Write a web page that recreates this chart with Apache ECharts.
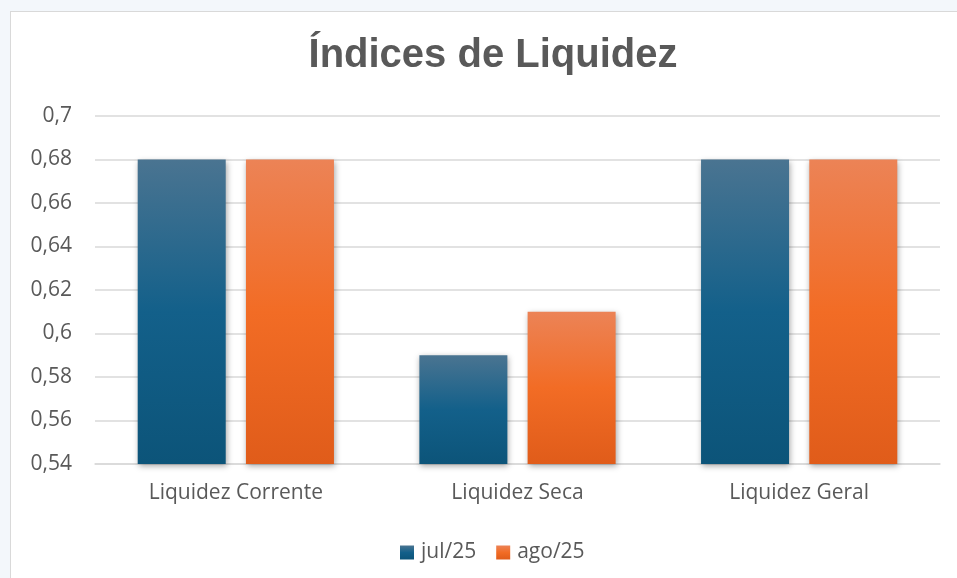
<!DOCTYPE html>
<html>
<head>
<meta charset="utf-8">
<script src="https://cdn.jsdelivr.net/npm/echarts@6/dist/echarts.min.js"></script>
<style>
  html, body { margin: 0; padding: 0; background: #f3f7fb; }
  #card { position: absolute; left: 10px; top: 11px; width: 1000px; height: 600px; background: #fff; border: 1.5px solid #d9d9d9; }
  #chart { position: absolute; left: 0; top: 0; width: 957px; height: 578px; }
</style>
</head>
<body>
<div id="card"></div>
<div id="chart"></div>
<script>
var categories = ['Liquidez Corrente', 'Liquidez Seca', 'Liquidez Geral']
var jul25 = [0.68, 0.59, 0.68]
var ago25 = [0.68, 0.61, 0.68]

var textFont = '"Open Sans", sans-serif'

function grad(top, mid, bottom) {
  return new echarts.graphic.LinearGradient(0, 0, 0, 1, [
    { offset: 0, color: top },
    { offset: 0.5, color: mid },
    { offset: 1, color: bottom }
  ])
}

var chart = echarts.init(document.getElementById('chart'))
chart.setOption({
  animation: false,
  title: {
    text: 'Índices de Liquidez',
    left: 488,
    textAlign: 'center',
    top: 31,
    textStyle: { fontFamily: '"Liberation Sans", Arial, sans-serif', fontSize: 40, fontWeight: 'bold', color: '#595959' }
  },
  legend: {
    top: 537,
    left: 395,
    icon: 'rect',
    itemWidth: 14,
    itemHeight: 14,
    itemGap: 20,
    textStyle: { fontFamily: textFont, fontSize: 21, color: '#595959', padding: [0, 0, 0, 2] }
  },
  grid: { left: 95, right: 17, top: 116, bottom: 114 },
  xAxis: {
    type: 'category',
    data: categories,
    axisLine: { lineStyle: { color: '#d9d9d9', width: 1.5 } },
    axisTick: { show: false },
    axisLabel: { margin: 19, fontFamily: textFont, fontSize: 21, color: '#595959' }
  },
  yAxis: {
    type: 'value',
    min: 0.54,
    max: 0.7,
    interval: 0.02,
    axisLabel: {
      margin: 23,
      fontFamily: textFont,
      fontSize: 21,
      color: '#595959',
      formatter: function (v) { return String(parseFloat(v.toFixed(2))).replace('.', ',') }
    },
    splitLine: { lineStyle: { color: '#d9d9d9', width: 1.5 } }
  },
  series: [
    {
      name: 'jul/25',
      type: 'bar',
      data: jul25,
      barWidth: 88,
      barGap: '23%',
      itemStyle: {
        color: grad('#4a7491', '#13608a', '#0c5479'),
        shadowBlur: 6,
        shadowColor: 'rgba(0,0,0,0.35)',
        shadowOffsetX: 1,
        shadowOffsetY: 2
      }
    },
    {
      name: 'ago/25',
      type: 'bar',
      data: ago25,
      barWidth: 88,
      itemStyle: {
        color: grad('#ec8356', '#f26c25', '#e05c1a'),
        shadowBlur: 6,
        shadowColor: 'rgba(0,0,0,0.35)',
        shadowOffsetX: 1,
        shadowOffsetY: 2
      }
    }
  ]
})
</script>
</body>
</html>
